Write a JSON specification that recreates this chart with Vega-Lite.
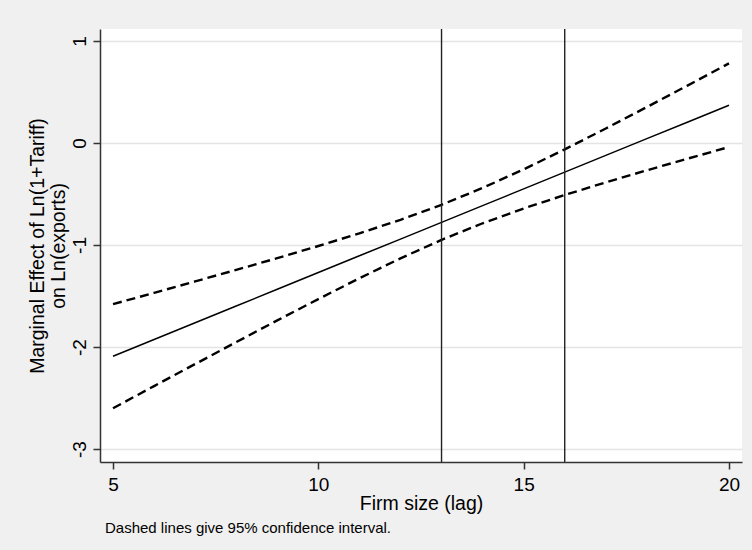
{
  "$schema": "https://vega.github.io/schema/vega-lite/v6.json",
  "width": 642,
  "height": 433,
  "autosize": {"type": "none"},
  "padding": {"left": 100, "top": 29, "right": 10, "bottom": 88},
  "background": "#f0f0f0",
  "config": {
    "view": {"fill": "white", "stroke": null},
    "font": "Liberation Sans",
    "axis": {
      "labelFontSize": 19,
      "labelColor": "black",
      "titleFontSize": 19.5,
      "titleFontWeight": "normal",
      "titleColor": "black",
      "tickSize": 7,
      "tickWidth": 1.5,
      "tickColor": "#333333",
      "domainColor": "#333333",
      "domainWidth": 1.5,
      "labelFlush": false,
      "labelOverlap": false
    },
    "axisX": {"grid": false, "labelPadding": 6, "titlePadding": 0},
    "axisY": {
      "grid": true,
      "gridColor": "#e4e4e4",
      "gridWidth": 1.5,
      "labelAngle": -90,
      "labelAlign": "center",
      "labelBaseline": "bottom",
      "labelPadding": 4,
      "titlePadding": 2,
      "titleLineHeight": 21,
      "labelExpr": "'' + datum.value"
    }
  },
  "title": {
    "text": "Dashed lines give 95% confidence interval.",
    "orient": "bottom",
    "anchor": "start",
    "frame": "group",
    "fontSize": 15,
    "fontWeight": "normal",
    "color": "black",
    "offset": 8,
    "dx": 5
  },
  "datasets": {
    "fit": [
      {"x": 5, "est": -2.09, "lo": -2.6, "hi": -1.58},
      {"x": 6, "est": -1.926, "lo": -2.383, "hi": -1.469},
      {"x": 7, "est": -1.762, "lo": -2.167, "hi": -1.357},
      {"x": 8, "est": -1.598, "lo": -1.952, "hi": -1.244},
      {"x": 9, "est": -1.434, "lo": -1.739, "hi": -1.129},
      {"x": 10, "est": -1.27, "lo": -1.53, "hi": -1.01},
      {"x": 11, "est": -1.106, "lo": -1.326, "hi": -0.886},
      {"x": 12, "est": -0.942, "lo": -1.131, "hi": -0.753},
      {"x": 13, "est": -0.778, "lo": -0.95, "hi": -0.606},
      {"x": 14, "est": -0.614, "lo": -0.787, "hi": -0.441},
      {"x": 15, "est": -0.45, "lo": -0.642, "hi": -0.259},
      {"x": 16, "est": -0.286, "lo": -0.51, "hi": -0.063},
      {"x": 17, "est": -0.122, "lo": -0.386, "hi": 0.142},
      {"x": 18, "est": 0.042, "lo": -0.268, "hi": 0.352},
      {"x": 19, "est": 0.206, "lo": -0.153, "hi": 0.565},
      {"x": 20, "est": 0.37, "lo": -0.04, "hi": 0.78}
    ],
    "cuts": [{"x": 13}, {"x": 16}]
  },
  "encoding": {
    "x": {
      "field": "x",
      "type": "quantitative",
      "title": "Firm size (lag)",
      "scale": {"domain": [4.683, 20.317], "nice": false, "zero": false},
      "axis": {"values": [5, 10, 15, 20]}
    }
  },
  "layer": [
    {
      "data": {"name": "fit"},
      "mark": {"type": "line", "color": "black", "strokeWidth": 1.5},
      "encoding": {
        "y": {
          "field": "est",
          "type": "quantitative",
          "title": ["Marginal Effect of Ln(1+Tariff)", "on Ln(exports)"],
          "scale": {"domain": [-3.127, 1.117], "nice": false, "zero": false},
          "axis": {"values": [-3, -2, -1, 0, 1]}
        }
      }
    },
    {
      "data": {"name": "fit"},
      "mark": {"type": "line", "color": "black", "strokeWidth": 2.4, "strokeDash": [9, 5]},
      "encoding": {
        "y": {
          "field": "hi",
          "type": "quantitative",
          "title": ["Marginal Effect of Ln(1+Tariff)", "on Ln(exports)"],
          "scale": {"domain": [-3.127, 1.117], "nice": false, "zero": false}
        }
      }
    },
    {
      "data": {"name": "fit"},
      "mark": {"type": "line", "color": "black", "strokeWidth": 2.4, "strokeDash": [9, 5]},
      "encoding": {
        "y": {
          "field": "lo",
          "type": "quantitative",
          "title": ["Marginal Effect of Ln(1+Tariff)", "on Ln(exports)"],
          "scale": {"domain": [-3.127, 1.117], "nice": false, "zero": false}
        }
      }
    },
    {
      "data": {"name": "cuts"},
      "mark": {"type": "rule", "color": "#222222", "strokeWidth": 1.4},
      "encoding": {}
    }
  ]
}
